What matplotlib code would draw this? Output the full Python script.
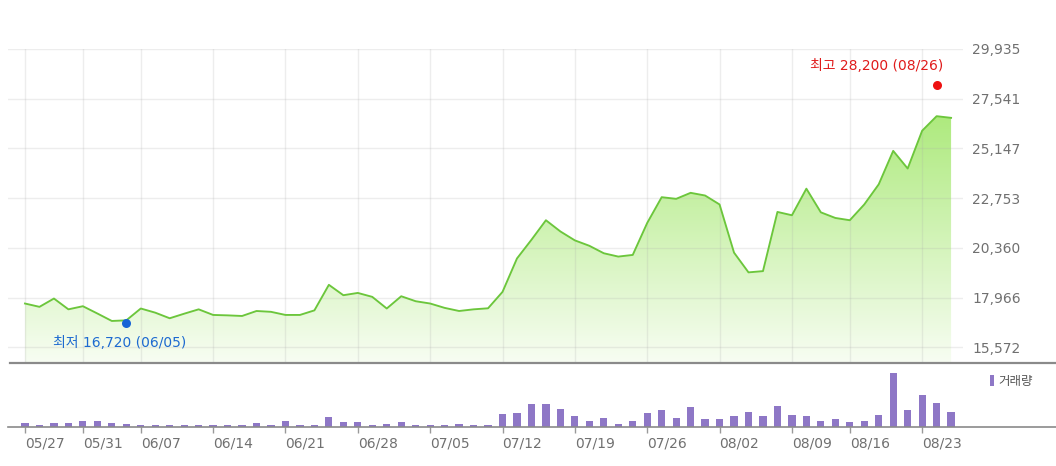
import numpy as np
import matplotlib
matplotlib.use("Agg")
import matplotlib.pyplot as plt
from matplotlib.colors import LinearSegmentedColormap
from matplotlib.lines import Line2D
from matplotlib.font_manager import FontProperties

plt.rcParams['font.family'] = ['DejaVu Sans', 'Noto Sans CJK KR']

dates = ['05/27', '05/28', '05/29', '05/30', '05/31',
         '06/03', '06/04', '06/05', '06/07',
         '06/10', '06/11', '06/12', '06/13', '06/14',
         '06/17', '06/18', '06/19', '06/20', '06/21',
         '06/24', '06/25', '06/26', '06/27', '06/28',
         '07/01', '07/02', '07/03', '07/04', '07/05',
         '07/08', '07/09', '07/10', '07/11', '07/12',
         '07/15', '07/16', '07/17', '07/18', '07/19',
         '07/22', '07/23', '07/24', '07/25', '07/26',
         '07/29', '07/30', '07/31', '08/01', '08/02',
         '08/05', '08/06', '08/07', '08/08', '08/09',
         '08/12', '08/13', '08/14', '08/16',
         '08/19', '08/20', '08/21', '08/22', '08/23',
         '08/26', '08/27']

close = [17680, 17520, 17920, 17400, 17550,
         17200, 16840, 16870, 17440,
         17240, 16970, 17190, 17400, 17130,
         17110, 17080, 17320, 17280, 17130,
         17130, 17350, 18580, 18080, 18190,
         18000, 17440, 18030, 17790, 17680,
         17470, 17320, 17400, 17450, 18240,
         19850, 20750, 21690, 21150, 20720,
         20460, 20100, 19940, 20020, 21560,
         22800, 22720, 23010, 22880, 22450,
         20130, 19180, 19240, 22090, 21930,
         23210, 22070, 21800, 21690,
         22450, 23420, 25030, 24180, 26000,
         26700, 26620]

volume = [40000, 20000, 40000, 40000, 53000,
          53000, 40000, 23000, 20000,
          20000, 20000, 20000, 20000, 13000,
          20000, 20000, 37000, 20000, 53000,
          20000, 20000, 93000, 50000, 50000,
          17000, 30000, 47000, 13000, 13000,
          13000, 30000, 13000, 13000, 125000,
          137000, 227000, 227000, 180000, 103000,
          60000, 90000, 30000, 60000, 133000,
          167000, 90000, 193000, 73000, 73000,
          103000, 150000, 103000, 210000, 120000,
          103000, 60000, 73000, 43000,
          60000, 120000, 540000, 167000, 317000,
          240000, 150000]

tick_dates = ['05/27', '05/31', '06/07', '06/14', '06/21', '06/28', '07/05',
              '07/12', '07/19', '07/26', '08/02', '08/09', '08/16', '08/23']
price_ticks = [15572, 17966, 20360, 22753, 25147, 27541, 29935]

low_value, low_date = 16720, '06/05'
high_value, high_date = 28200, '08/26'
volume_label = '거래량'

W, H = 1056, 466
fig = plt.figure(figsize=(W / 100, H / 100), dpi=100)
fig.patch.set_facecolor('white')

x = np.arange(len(dates))
step = 14.47
x0px = 25.0
def px_to_i(px):
    return (px - x0px) / step

# ---- price panel ----
top_px, bot_px = 49.0, 362.0
ax = fig.add_axes([8 / W, (H - bot_px) / H, (963 - 8) / W, (bot_px - top_px) / H])
ylo = price_ticks[0] - (bot_px - 347.3) / ((347.3 - 49.0) / 6) * (price_ticks[1] - price_ticks[0])
ax.set_xlim(px_to_i(8), px_to_i(963))
ax.set_ylim(ylo, price_ticks[-1])
for s in ax.spines.values():
    s.set_visible(False)

tick_idx = [dates.index(d) for d in tick_dates]
ax.set_xticks(tick_idx)
ax.set_xticklabels([])
ax.tick_params(axis='x', length=0)
ax.set_yticks(price_ticks)
ax.set_yticklabels([f'{v:,}' for v in price_ticks])
ax.yaxis.tick_right()
ax.tick_params(axis='y', length=0, pad=6.5, labelsize=10, labelcolor='#707070')
ax.set_axisbelow(False)
ax.grid(True, color='#a8a8a8', alpha=0.2, lw=1.0)

# gradient fill under line
poly = ax.fill_between(x, close, ylo, color='none', lw=0)
cmap = LinearSegmentedColormap.from_list('g', ['#f7fdf2', '#aeea7e'])
grad = np.linspace(0, 1, 256).reshape(-1, 1)
im = ax.imshow(grad, cmap=cmap, origin='lower', aspect='auto',
               extent=[x[0], x[-1], ylo, max(close)], zorder=1)
im.set_clip_path(poly.get_paths()[0], transform=ax.transData)
ax.set_xlim(px_to_i(8), px_to_i(963))
ax.set_ylim(ylo, price_ticks[-1])

ax.plot(x, close, color='#6cc63c', lw=1.35, zorder=3)

# low / high markers
li = dates.index(low_date)
hi = dates.index(high_date)
ax.plot([li], [low_value], 'o', color='#1764d6', ms=6.5, mec='none', zorder=4, clip_on=False)
ax.plot([hi], [high_value], 'o', color='#ee1111', ms=6.5, mec='none', zorder=4, clip_on=False)
ax.annotate(f'최저 {low_value:,} ({low_date})', (li, low_value),
            xytext=(-53, -14), textcoords='offset points', ha='left', va='center',
            color='#1d6ad0', fontsize=10)
ax.annotate(f'최고 {high_value:,} ({high_date})', (hi, high_value),
            xytext=(4.5, 14), textcoords='offset points', ha='right', va='center',
            color='#e01b1b', fontsize=10)

# separator line
fig.add_artist(Line2D([10 / W, 1.0], [(H - 363) / H] * 2, color='#8a8a8a', lw=1.6))

# ---- volume panel ----
vtop, vbot = 363.0, 426.5
axv = fig.add_axes([8 / W, (H - vbot) / H, (W - 8) / W, (vbot - vtop) / H])
axv.set_xlim(px_to_i(8), px_to_i(W))
vmax = max(volume)
axv.set_ylim(0, vmax * (vbot - vtop) / 53.8)
axv.bar(x, volume, width=0.5, color='#8e77c6', label=volume_label, zorder=2)
for k in ['top', 'left', 'right']:
    axv.spines[k].set_visible(False)
axv.spines['bottom'].set_color('#8a8a8a')
axv.spines['bottom'].set_linewidth(1.2)
axv.set_yticks([])
axv.set_xticks(tick_idx)
axv.set_xticklabels(tick_dates)
axv.tick_params(axis='x', length=4.5, width=1, color='#999999', pad=2.5,
                labelsize=10, labelcolor='#707070', direction='out')
for lbl in axv.get_xticklabels():
    lbl.set_horizontalalignment('left')
axv.patch.set_alpha(0)

axv.legend(loc='upper left', bbox_to_anchor=(990 / W, (H - 375) / H),
           bbox_transform=fig.transFigure, frameon=False, handlelength=0.35,
           handleheight=1.0, handletextpad=0.35, borderpad=0, borderaxespad=0,
           prop=FontProperties(family=['DejaVu Sans', 'Noto Sans CJK KR'], size=9),
           labelcolor='#555555')

fig.savefig('out.png', dpi=100, facecolor='white')
